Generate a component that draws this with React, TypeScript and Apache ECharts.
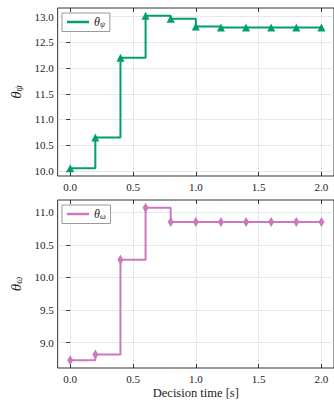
import React, { useEffect, useRef } from 'react';
import * as echarts from 'echarts';

const times = [0, 0.2, 0.4, 0.6, 0.8, 1.0, 1.2, 1.4, 1.6, 1.8, 2.0];
const thetaPsi = [10.05, 10.65, 12.2, 13.02, 12.96, 12.81, 12.79, 12.79, 12.79, 12.79, 12.79];
const thetaOmega = [8.73, 8.82, 10.27, 11.07, 10.85, 10.85, 10.85, 10.85, 10.85, 10.85, 10.85];
const xTicks = [0, 0.5, 1.0, 1.5, 2.0];
const psiTicks = [10, 10.5, 11, 11.5, 12, 12.5, 13];
const omegaTicks = [9, 9.5, 10, 10.5, 11];
const xLabel = 'Decision time [s]';

const FONT = 'Liberation Serif';
const GREEN = '#029E73';
const PINK = '#CC78BC';

const rich = {
  t: { fontFamily: FONT, fontStyle: 'italic', fontSize: 15, color: '#222' },
  s: { fontFamily: FONT, fontStyle: 'italic', fontSize: 10, color: '#222', padding: [6, 0, 0, 0] },
};
const legendRich = {
  t: { fontFamily: FONT, fontStyle: 'italic', fontSize: 12, color: '#222' },
  s: { fontFamily: FONT, fontStyle: 'italic', fontSize: 8, color: '#222', padding: [5, 0, 0, 0] },
};

const gridLine = { show: true, lineStyle: { type: 'dotted', color: '#c4c4c4', width: 0.8 } };
const tickLabel = { fontFamily: FONT, fontSize: 11, color: '#222' };

function xAxes(grid: number, withName: boolean) {
  return [
    {
      type: 'value', gridIndex: grid, min: -0.1, max: 2.1, position: 'bottom',
      axisLine: { show: false },
      axisTick: { show: true, inside: true, length: 4, customValues: xTicks, lineStyle: { color: '#333', width: 1 } },
      axisLabel: { ...tickLabel, customValues: xTicks, margin: 5, formatter: (v: number) => v.toFixed(1) },
      splitLine: gridLine,
      name: withName ? xLabel : '',
      nameLocation: 'middle', nameGap: 18,
      nameTextStyle: { fontFamily: FONT, fontSize: 12.5, color: '#222' },
    },
    {
      type: 'value', gridIndex: grid, min: -0.1, max: 2.1, position: 'top',
      axisLine: { show: false },
      axisTick: { show: true, inside: true, length: 4, customValues: xTicks, lineStyle: { color: '#333', width: 1 } },
      axisLabel: { show: false },
      splitLine: { show: false },
    },
  ];
}

function yAxis(grid: number, min: number, max: number, ticks: number[], sub: string) {
  return {
    type: 'value', gridIndex: grid, min, max,
    axisLine: { show: false },
    axisTick: { show: true, inside: false, length: 4, customValues: ticks, lineStyle: { color: '#333', width: 1 } },
    axisLabel: { ...tickLabel, customValues: ticks, margin: 4, formatter: (v: number) => v.toFixed(1) },
    splitLine: gridLine,
    name: `{t|θ}{s|${sub}}`,
    nameLocation: 'middle', nameGap: 32, nameRotate: 90,
    nameTextStyle: { rich },
  };
}

function legend(name: string, sub: string, top: number) {
  return {
    data: [{ name, icon: 'rect' }],
    left: 62, top, orient: 'vertical',
    itemWidth: 22, itemHeight: 2.5, itemGap: 0,
    padding: [3, 5, 3, 5],
    borderColor: '#999', borderWidth: 1, borderRadius: 0,
    backgroundColor: '#fff',
    formatter: () => `{t|θ}{s|${sub}}`,
    textStyle: { rich: legendRich },
  };
}

export default function App() {
  const ref = useRef<HTMLDivElement>(null);
  useEffect(() => {
    document.body.style.margin = '0';
    const chart = echarts.init(ref.current!, undefined, { renderer: 'svg' });
    chart.setOption({
      animation: false,
      backgroundColor: '#fff',
      textStyle: { fontFamily: FONT },
      grid: [
        { left: 56, right: -5, top: 8, height: 168, show: true, borderColor: '#333', borderWidth: 1 },
        { left: 56, right: -5, top: 200, height: 168, show: true, borderColor: '#333', borderWidth: 1 },
      ],
      xAxis: [...xAxes(0, false), ...xAxes(1, true)],
      yAxis: [
        yAxis(0, 9.9, 13.17, psiTicks, 'ψ'),
        yAxis(1, 8.613, 11.187, omegaTicks, 'ω'),
      ],
      legend: [legend('θψ', 'ψ', 13), legend('θω', 'ω', 205)],
      series: [
        {
          name: 'θψ', type: 'line', xAxisIndex: 0, yAxisIndex: 0, step: 'end',
          data: times.map((t, i) => [t, thetaPsi[i]]),
          symbol: 'triangle', symbolSize: 8, showSymbol: true,
          lineStyle: { color: GREEN, width: 2 }, itemStyle: { color: GREEN },
        },
        {
          name: 'θω', type: 'line', xAxisIndex: 2, yAxisIndex: 1, step: 'end',
          data: times.map((t, i) => [t, thetaOmega[i]]),
          symbol: 'diamond', symbolSize: [6, 10], showSymbol: true,
          lineStyle: { color: PINK, width: 2 }, itemStyle: { color: PINK },
        },
      ],
    });
    return () => chart.dispose();
  }, []);
  return <div ref={ref} style={{ width: 334, height: 401 }} />;
}
